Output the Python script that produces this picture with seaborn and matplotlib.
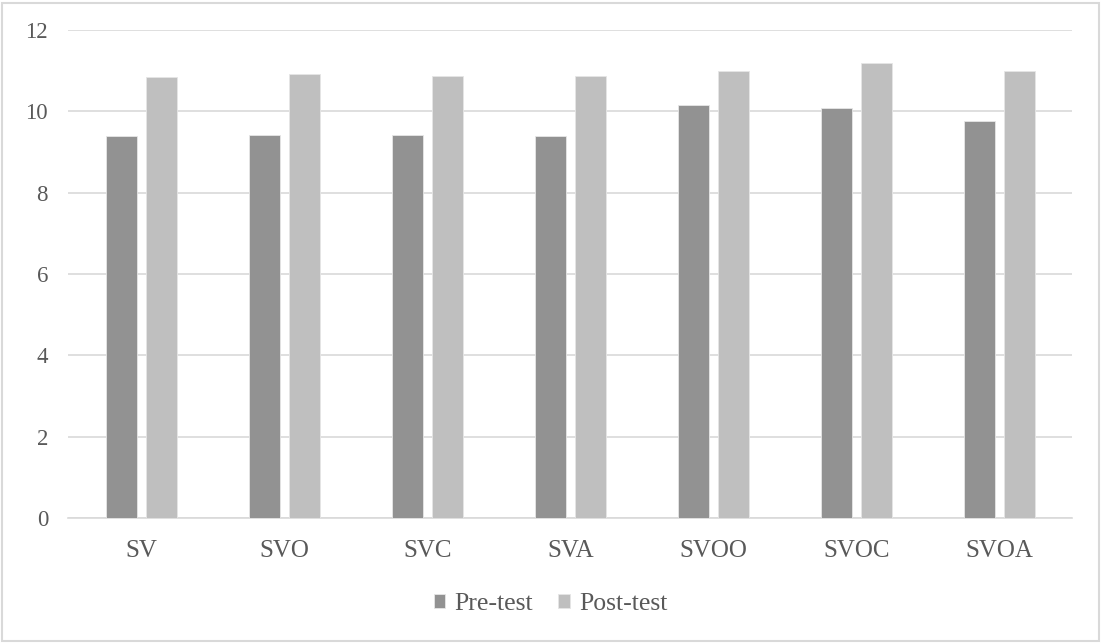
import matplotlib
matplotlib.use("Agg")
import matplotlib.pyplot as plt
from matplotlib.patches import Rectangle
import seaborn as sns
import pandas as pd

categories = ["SV", "SVO", "SVC", "SVA", "SVOO", "SVOC", "SVOA"]
pre_test = [9.39, 9.43, 9.43, 9.39, 10.15, 10.09, 9.77]
post_test = [10.84, 10.91, 10.88, 10.88, 10.98, 11.20, 11.00]
series_names = ["Pre-test", "Post-test"]
series_colors = ["#929292", "#bfbfbf"]
y_ticks = [0, 2, 4, 6, 8, 10, 12]

df = pd.DataFrame({
    "category": categories * 2,
    "score": pre_test + post_test,
    "test": [series_names[0]] * len(categories) + [series_names[1]] * len(categories),
})

sns.set_theme(style="white")
plt.rcParams["font.family"] = ["Liberation Serif", "DejaVu Serif"]
text_color = "#595959"
grid_color = "#d9d9d9"

fig = plt.figure(figsize=(11.01, 6.43), dpi=100)
ax = fig.add_axes([68 / 1101, 1 - 518 / 643, (1072 - 68) / 1101, (518 - 30) / 643])

sns.barplot(data=df, x="category", y="score", hue="test", order=categories,
            hue_order=series_names, palette=series_colors, width=0.565, gap=0.22,
            saturation=1, errorbar=None, ax=ax, zorder=3)

for bar in ax.patches:
    bar.set_edgecolor("#e6e6e6")
    bar.set_linewidth(0.6)

ax.set_ylim(0, 12)
ax.set_xlim(-0.514, len(categories) - 0.493)
ax.set_yticks(y_ticks)
ax.set_yticklabels([str(t) for t in y_ticks])
ax.yaxis.grid(True, color=grid_color, linewidth=1.2, zorder=0)
ax.set_axisbelow(True)
for side in ["left", "right", "top"]:
    ax.spines[side].set_visible(False)
ax.spines["bottom"].set_color(grid_color)
ax.spines["bottom"].set_linewidth(1.2)
ax.tick_params(axis="both", length=0, colors=text_color)
ax.tick_params(axis="y", labelsize=16.5, pad=14.4)
ax.tick_params(axis="x", labelsize=18, pad=15.5)
ax.set_xlabel("")
ax.set_ylabel("")

handles, labels = ax.get_legend_handles_labels()
ax.get_legend().remove()
fig.legend(handles, labels, loc="center", bbox_to_anchor=(0.5, 1 - 604 / 643),
           ncol=2, frameon=False, fontsize=18.5, labelcolor=text_color,
           handlelength=0.45, handleheight=0.45, handletextpad=0.35, columnspacing=1.0)

fig.patches.append(Rectangle((2 / 1101, 2 / 643), 1097 / 1101, 638 / 643,
                             transform=fig.transFigure, fill=False,
                             edgecolor="#d9d9d9", linewidth=1.5))

fig.savefig("out.png", dpi=100)
